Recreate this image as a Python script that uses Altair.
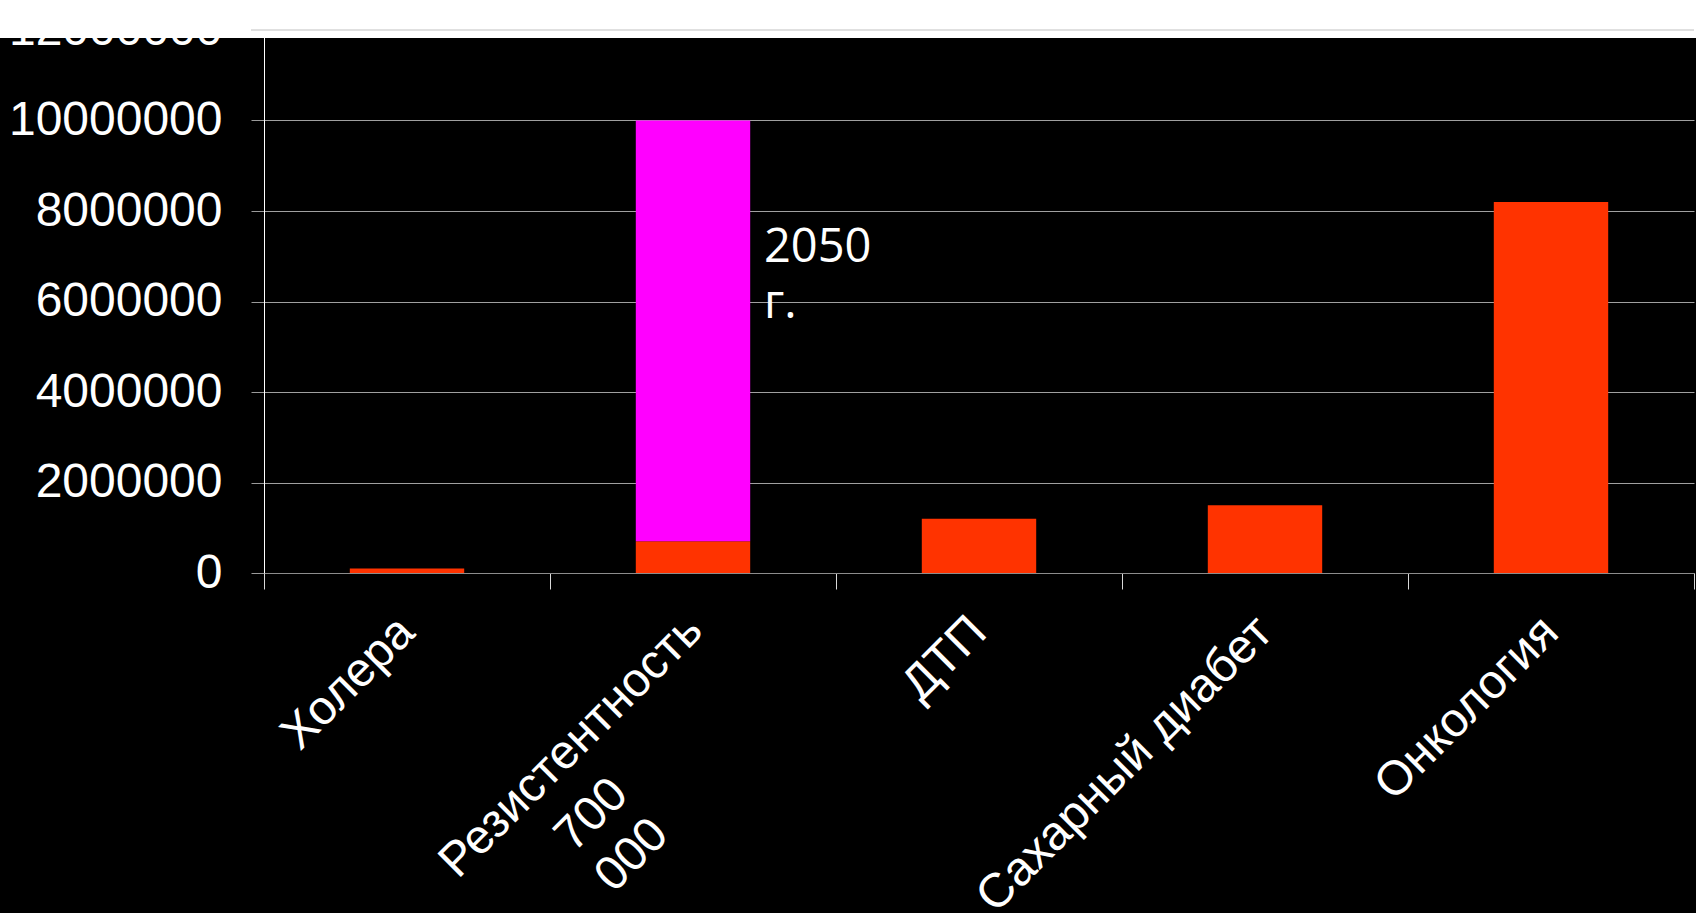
import altair as alt
import pandas as pd

# ---- data ----
categories = ["Холера", "Резистентность\n700\n000", "ДТП", "Сахарный диабет", "Онкология"]
deaths_now = [100000, 700000, 1200000, 1500000, 8200000]
deaths_2050_extra = [0, 9300000, 0, 0, 0]
series_names = ["сейчас", "2050 г."]
series_colors = ["#FF3300", "#FF00FF"]
y_ticks = [0, 2000000, 4000000, 6000000, 8000000, 10000000, 12000000]
annotation_category = ["Резистентность\n700\n000"]
annotation_value = [6870000]
annotation_text = ["2050", "г."]
top_grid_value = [12000000]

rows = []
for c, a, b in zip(categories, deaths_now, deaths_2050_extra):
    rows.append({"cat": c, "series": series_names[0], "order": 0, "value": a})
    if b:
        rows.append({"cat": c, "series": series_names[1], "order": 1, "value": b})
df = pd.DataFrame(rows)
labels_df = pd.DataFrame({"cat": categories})

W, H = 1430, 543
FS = 48
x_scale = alt.Scale(domain=categories, paddingInner=0, paddingOuter=0)
y_scale = alt.Scale(domain=[0, 12000000], nice=False)

x_axis = alt.Axis(
    title=None, labels=False,
    tickBand="extent", tickSize=16, tickColor="#d9d9d9",
    domainColor="#8c8c8c", grid=False,
)
y_axis = alt.Axis(
    title=None, values=y_ticks, format="d",
    labelFont="Liberation Sans", labelFontSize=FS, labelColor="white",
    labelPadding=29, labelOverlap=False, labelLimit=1000,
    tickSize=13, tickColor="#9a9a9a", gridColor="#a0a0a0", domainColor="white",
)

X = alt.X("cat:N", scale=x_scale, axis=x_axis, sort=categories)

band = alt.Chart(alt.Data(values=[{}])).mark_rect(color="white").encode(
    x=alt.value(-264), x2=alt.value(W + 10), y=alt.value(-30), y2=alt.value(8)
)

top_rule = alt.Chart(pd.DataFrame({"value": top_grid_value})).mark_rule(color="#c0c0c0").encode(
    y=alt.Y("value:Q", scale=y_scale, axis=y_axis), x=alt.value(-13), x2=alt.value(W)
)

bars = alt.Chart(df).mark_bar(width=alt.RelativeBandSize(0.4)).encode(
    x=X,
    y=alt.Y("value:Q", stack="zero", scale=y_scale, axis=y_axis),
    color=alt.Color("series:N", scale=alt.Scale(domain=series_names, range=series_colors), legend=None),
    order=alt.Order("order:Q"),
)

is_res = "indexof(datum.cat, '700') >= 0"
label_style = dict(angle=315, baseline="middle", font="Liberation Sans", fontSize=FS, color="white")
LABEL_Y = H + 52

labels_main = alt.Chart(labels_df).transform_filter("!(" + is_res + ")").mark_text(
    align="right", **label_style
).encode(x=X, y=alt.value(LABEL_Y), text=alt.Text("cat:N"))

labels_res_first = alt.Chart(labels_df).transform_filter(is_res).transform_calculate(
    lab="split(datum.cat, '\\n')[0]"
).mark_text(align="right", dx=3, **label_style).encode(
    x=X, y=alt.value(LABEL_Y), text=alt.Text("lab:N")
)

labels_res_rest = alt.Chart(labels_df).transform_filter(is_res).transform_calculate(
    lab="slice(split(datum.cat, '\\n'), 1)"
).mark_text(align="center", dx=-206, dy=63, lineHeight=57, **label_style).encode(
    x=X, y=alt.value(LABEL_Y), text=alt.Text("lab:N")
)

ann = alt.Chart(pd.DataFrame({"cat": annotation_category, "value": annotation_value})).mark_text(
    text=annotation_text, align="left", baseline="alphabetic", dx=71,
    font="Open Sans", fontSize=47, lineHeight=56, color="white",
).encode(
    x=X,
    y=alt.Y("value:Q", scale=y_scale, axis=y_axis),
)

chart = alt.layer(band, top_rule, bars, labels_main, labels_res_first, labels_res_rest, ann).properties(
    width=W, height=H, background="black",
    padding={"left": 264, "top": 30, "right": 2, "bottom": 340},
    autosize=alt.AutoSizeParams(type="none"),
).configure_view(stroke=None)

chart.save("out.html", embed_options={"renderer": "svg", "actions": False})
